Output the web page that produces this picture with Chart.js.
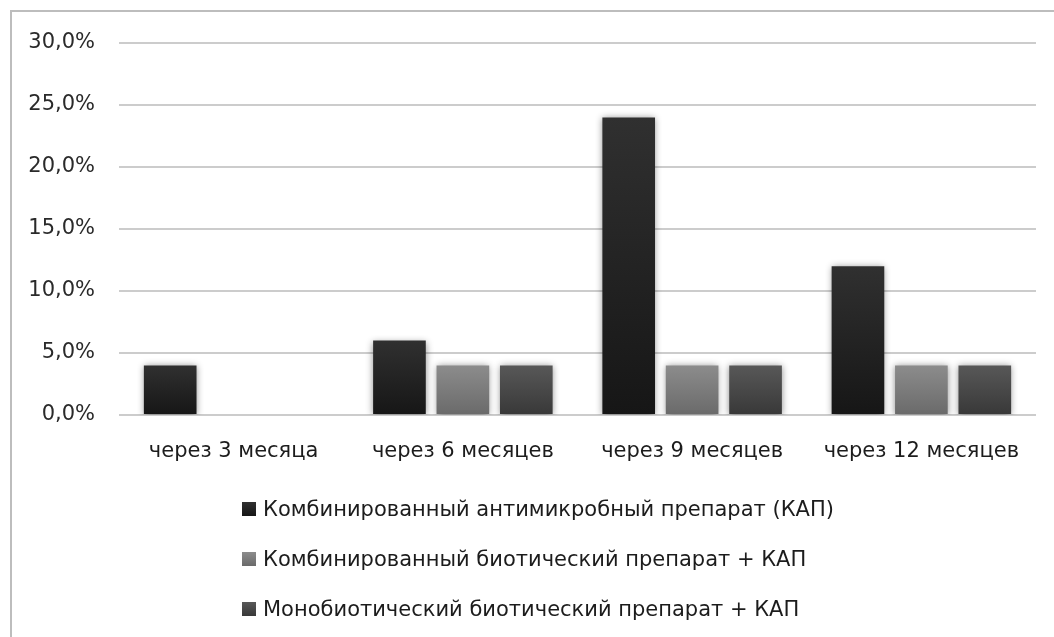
<!DOCTYPE html>
<html lang="ru">
<head>
<meta charset="utf-8">
<script src="https://cdn.jsdelivr.net/npm/chart.js@4/dist/chart.umd.min.js"></script>
<style>
  html, body { margin: 0; padding: 0; background: #fff; }
  #wrap { position: relative; width: 1054px; height: 637px; overflow: hidden; }
  #frame { position: absolute; left: 10px; top: 10px; width: 1100px; height: 700px;
           border-top: 2px solid #bdbdbd; border-left: 2px solid #bdbdbd; box-sizing: border-box; }
  #chart { position: absolute; left: 0; top: 0; }
  #legend { position: absolute; left: 242px; top: 484px; font-family: "DejaVu Sans", sans-serif;
            font-size: 21px; color: #1c1c1c; }
  .item { display: flex; align-items: center; height: 50px; white-space: nowrap; }
  .box { width: 14px; height: 14px; margin-right: 7px; flex: none; }
</style>
</head>
<body>
<div id="wrap">
  <div id="frame"></div>
  <canvas id="chart" width="1054" height="637"></canvas>
  <div id="legend"></div>
</div>
<script>
// Periods after treatment
const categories = ['через 3 месяца', 'через 6 месяцев', 'через 9 месяцев', 'через 12 месяцев'];

// Share of relapses, %
const seriesNames = [
  'Комбинированный антимикробный препарат (КАП)',
  'Комбинированный биотический препарат + КАП',
  'Монобиотический биотический препарат + КАП'
];
const kapValues = [4, 6, 24, 12];
const comboBioticValues = [0, 4, 4, 4];
const monoBioticValues = [0, 4, 4, 4];

const yTicks = [0, 5, 10, 15, 20, 25, 30];

// Vertical shading for each group: [top, bottom]
const shades = [
  ['#303030', '#161616'],
  ['#8c8c8c', '#6a6a6a'],
  ['#585858', '#383838']
];

function barFill(idx) {
  return function (ctx) {
    const chart = ctx.chart;
    const y = chart.scales.y;
    if (!y || ctx.raw == null) return shades[idx][1];
    const top = y.getPixelForValue(ctx.raw);
    const bottom = y.getPixelForValue(0);
    if (!(bottom > top)) return shades[idx][1];
    const g = chart.ctx.createLinearGradient(0, top, 0, bottom);
    g.addColorStop(0, shades[idx][0]);
    g.addColorStop(1, shades[idx][1]);
    return g;
  };
}

const softShadow = {
  id: 'softShadow',
  beforeDatasetsDraw(chart) {
    const c = chart.ctx;
    c.save();
    c.shadowColor = 'rgba(0,0,0,0.45)';
    c.shadowBlur = 7;
    c.shadowOffsetX = 0;
    c.shadowOffsetY = 1;
  },
  afterDatasetsDraw(chart) {
    chart.ctx.restore();
  }
};

const fmt = v => v.toFixed(1).replace('.', ',') + '%';

const values = [kapValues, comboBioticValues, monoBioticValues];

const chart = new Chart(document.getElementById('chart'), {
  type: 'bar',
  data: {
    labels: categories,
    datasets: seriesNames.map((name, i) => ({
      label: name,
      data: values[i],
      backgroundColor: barFill(i),
      borderWidth: 0,
      categoryPercentage: 0.83,
      barPercentage: 0.83
    }))
  },
  plugins: [softShadow],
  options: {
    responsive: false,
    animation: false,
    devicePixelRatio: 1,
    layout: { padding: { left: 14, top: 43, right: 18, bottom: 0 } },
    plugins: {
      legend: { display: false },
      tooltip: { enabled: false }
    },
    scales: {
      x: {
        grid: { display: false, drawTicks: false },
        border: { display: false },
        ticks: {
          padding: 24,
          color: '#1c1c1c',
          font: { family: 'DejaVu Sans', size: 21 },
          maxRotation: 0
        },
        afterFit(scale) { scale.height = 222; }
      },
      y: {
        min: 0,
        max: 30,
        afterBuildTicks(scale) { scale.ticks = yTicks.map(v => ({ value: v })); },
        grid: { color: '#cccccc', lineWidth: 2, drawTicks: false },
        border: { display: false },
        ticks: {
          padding: 24,
          color: '#2a2a2a',
          font: { family: 'DejaVu Sans', size: 21 },
          callback: v => fmt(v)
        },
        afterFit(scale) { scale.width = 105; }
      }
    }
  }
});

// Legend column built from the chart's datasets
const legend = document.getElementById('legend');
chart.data.datasets.forEach((ds, i) => {
  const row = document.createElement('div');
  row.className = 'item';
  const box = document.createElement('span');
  box.className = 'box';
  box.style.background = 'linear-gradient(' + shades[i][0] + ',' + shades[i][1] + ')';
  const txt = document.createElement('span');
  txt.textContent = ds.label;
  row.appendChild(box);
  row.appendChild(txt);
  legend.appendChild(row);
});
</script>
</body>
</html>
